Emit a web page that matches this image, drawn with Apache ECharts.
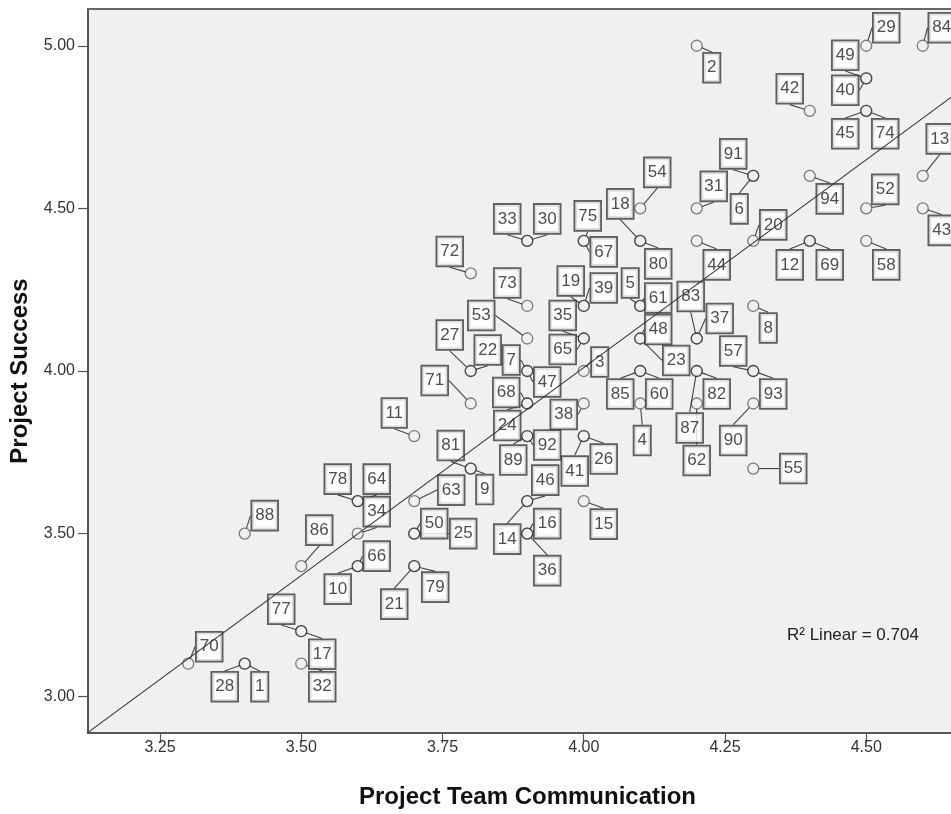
<!DOCTYPE html>
<html>
<head>
<meta charset="utf-8">
<script src="https://cdn.jsdelivr.net/npm/echarts@6/dist/echarts.min.js"></script>
<style>
  html, body { margin: 0; padding: 0; background: #ffffff; }
  #chart { width: 951px; height: 814px; }
</style>
</head>
<body>
<div id="chart"></div>
<script>
// ---- data (case id, Project Team Communication, Project Success) ----
const caseIds = [1,2,3,4,5,6,7,8,9,10,11,12,13,14,15,16,17,18,19,20,21,22,23,24,25,26,27,28,29,30,31,32,33,34,35,36,37,38,39,40,41,42,43,44,45,46,47,48,49,50,52,53,54,55,57,58,60,61,62,63,64,65,66,67,68,69,70,71,72,73,74,75,77,78,79,80,81,82,83,84,85,86,87,88,89,90,91,92,93,94];
const teamCommunication = [3.4,4.2,4.0,4.1,4.1,4.3,3.9,4.3,3.8,3.6,3.7,4.4,4.6,3.9,4.0,3.9,3.5,4.1,4.0,4.3,3.7,3.8,4.1,3.9,3.7,4.0,3.8,3.4,4.5,3.9,4.2,3.5,3.9,3.6,4.0,3.9,4.2,4.0,4.0,4.5,4.0,4.4,4.6,4.2,4.5,3.9,3.9,4.1,4.5,3.7,4.5,3.9,4.1,4.3,4.3,4.5,4.1,4.1,4.2,3.7,3.6,4.0,3.6,4.0,3.9,4.4,3.3,3.8,3.8,3.9,4.5,4.0,3.5,3.6,3.7,4.1,3.8,4.2,4.2,4.6,4.1,3.5,4.2,3.4,3.9,4.3,4.3,3.9,4.3,4.4];
const projectSuccess = [3.1,5.0,4.0,3.9,4.2,4.6,4.0,4.2,3.7,3.4,3.8,4.4,4.6,3.6,3.6,3.5,3.2,4.4,4.2,4.4,3.4,4.0,4.1,3.9,3.5,3.8,4.0,3.1,5.0,4.4,4.5,3.1,4.4,3.5,4.1,3.5,4.1,3.9,4.2,4.9,3.8,4.8,4.5,4.4,4.8,3.6,4.0,4.1,4.9,3.5,4.5,4.1,4.5,3.7,4.0,4.4,4.0,4.2,3.9,3.6,3.6,4.1,3.4,4.4,3.9,4.4,3.1,3.9,4.3,4.2,4.8,4.4,3.2,3.6,3.4,4.4,3.7,4.0,4.1,5.0,4.0,3.4,4.0,3.5,3.8,3.9,4.6,3.8,4.0,4.6];
// fitted linear regression line (endpoints)
const fitLineX = [3.10, 4.70];
const fitLineY = [2.860, 4.905];
const xTicks = [3.25, 3.50, 3.75, 4.00, 4.25, 4.50];
const yTicks = [3.00, 3.50, 4.00, 4.50, 5.00];
const fitText = 'R² Linear = 0.704';

// ---- label box placement (pixel offsets of each case label from its point) ----
const labelOffsets = {
  1:[15,23],2:[15,22],3:[16,-9],4:[2,37],5:[-10,-23],6:[-14,33],7:[-16,-11],8:[15,22],9:[14,21],10:[-20,23],
  11:[-20,-23],12:[-20,24],13:[17,-37],14:[-20,38],15:[20,23],16:[20,-10],17:[21,23],18:[-20,-37],19:[-13,-25],20:[20,-16],
  21:[-20,38],22:[17,-21],23:[36,22],24:[-20,22],25:[49,0],26:[20,23],27:[-21,-36],28:[-20,23],29:[20,-18],30:[20,-22],
  31:[17,-22],32:[21,23],33:[-20,-22],34:[19,-22],35:[-21,-23],36:[20,37],37:[23,-20],38:[-20,11],39:[20,-18],40:[-21,12],
  41:[-9,35],42:[-20,-22],43:[19,22],44:[20,24],45:[-21,23],46:[18,-21],47:[20,11],48:[18,-9],49:[-21,-23],50:[20,-10],
  52:[19,-19],53:[-46,-23],54:[17,-36],55:[40,0],57:[-20,-20],58:[20,24],60:[19,23],61:[18,-8],62:[0,57],63:[37,-11],
  64:[19,-22],65:[-21,11],66:[19,-10],67:[20,11],68:[-21,-11],69:[20,24],70:[21,-17],71:[-36,-23],72:[-21,-22],73:[-20,-23],
  74:[19,23],75:[4,-25],77:[-20,-22],78:[-20,-22],79:[21,21],80:[18,23],81:[-20,-23],82:[20,23],83:[-6,-42],84:[19,-18],
  85:[-20,23],86:[18,-36],87:[-7,57],88:[20,-18],89:[-14,24],90:[-20,37],91:[-20,-22],92:[20,9],93:[20,23],94:[20,23]
};

const points = caseIds.map((id, i) => [teamCommunication[i], projectSuccess[i], id]);
const fitLine = fitLineX.map((x, i) => [x, fitLineY[i]]);

const chart = echarts.init(document.getElementById('chart'), null, { renderer: 'canvas' });
const FONT = "'Liberation Sans', Arial, Helvetica, sans-serif";

chart.setOption({
  animation: false,
  backgroundColor: '#ffffff',
  textStyle: { fontFamily: FONT },
  grid: {
    left: 88, top: 9, right: 0, bottom: 77,
    show: true, backgroundColor: '#f0f0f0', borderWidth: 0
  },
  xAxis: [{
    type: 'value',
    min: 3.1226, max: 4.65,
    name: 'Project Team Communication',
    nameLocation: 'middle',
    nameGap: 52,
    nameTextStyle: { fontSize: 24, fontWeight: 'bold', color: '#111', fontFamily: FONT, padding: [0, 0, 0, 16] },
    axisLine: { show: true, lineStyle: { color: '#555', width: 2 } },
    axisTick: { show: true, length: 10, lineStyle: { color: '#555', width: 1.2 }, customValues: xTicks },
    axisLabel: { fontSize: 16, color: '#333', margin: 7, customValues: xTicks,
                 formatter: v => v.toFixed(2) },
    splitLine: { show: false }
  }, {
    type: 'value', position: 'top',
    min: 3.1226, max: 4.65,
    axisLine: { show: true, lineStyle: { color: '#666', width: 2 } },
    axisTick: { show: false }, axisLabel: { show: false }, splitLine: { show: false }
  }],
  yAxis: {
    type: 'value',
    min: 2.887, max: 5.113,
    name: 'Project Success',
    nameLocation: 'middle',
    nameGap: 56,
    nameTextStyle: { fontSize: 24, fontWeight: 'bold', color: '#111', fontFamily: FONT },
    axisLine: { show: true, lineStyle: { color: '#555', width: 2 } },
    axisTick: { show: true, length: 10, lineStyle: { color: '#555', width: 1.2 }, customValues: yTicks },
    axisLabel: { fontSize: 16, color: '#333', margin: 13, customValues: yTicks,
                 formatter: v => v.toFixed(2) },
    splitLine: { show: false }
  },
  series: [{
    type: 'scatter',
    z: 2,
    data: points,
    symbol: 'circle',
    symbolSize: 11,
    itemStyle: { color: 'transparent', borderColor: 'rgba(30,30,30,0.7)', borderWidth: 1.3 },
    label: {
      show: true,
      position: 'inside',
      formatter: p => String(p.value[2]),
      fontSize: 17,
      color: '#222',
      fontFamily: FONT,
      backgroundColor: '#ffffff',
      borderColor: '#3a3a3a',
      borderWidth: 1.8,
      padding: [6, 3, 5, 3]
    },
    labelLine: { show: true, lineStyle: { color: '#444', width: 1.1 } },
    labelLayout: function (params) {
      const id = caseIds[params.dataIndex];
      const off = labelOffsets[id] || [0, 0];
      return { dx: off[0], dy: off[1] };
    },
    emphasis: { disabled: true }
  }, {
    type: 'line',
    z: 5,
    data: fitLine,
    showSymbol: false,
    symbol: 'none',
    clip: true,
    lineStyle: { color: '#333', width: 1.1 },
    emphasis: { disabled: true },
    silent: true
  }],
  graphic: [{
    type: 'text',
    left: 787, top: 627,
    style: { text: fitText, fontSize: 17, fill: '#222', fontFamily: FONT }
  }]
});
</script>
</body>
</html>
